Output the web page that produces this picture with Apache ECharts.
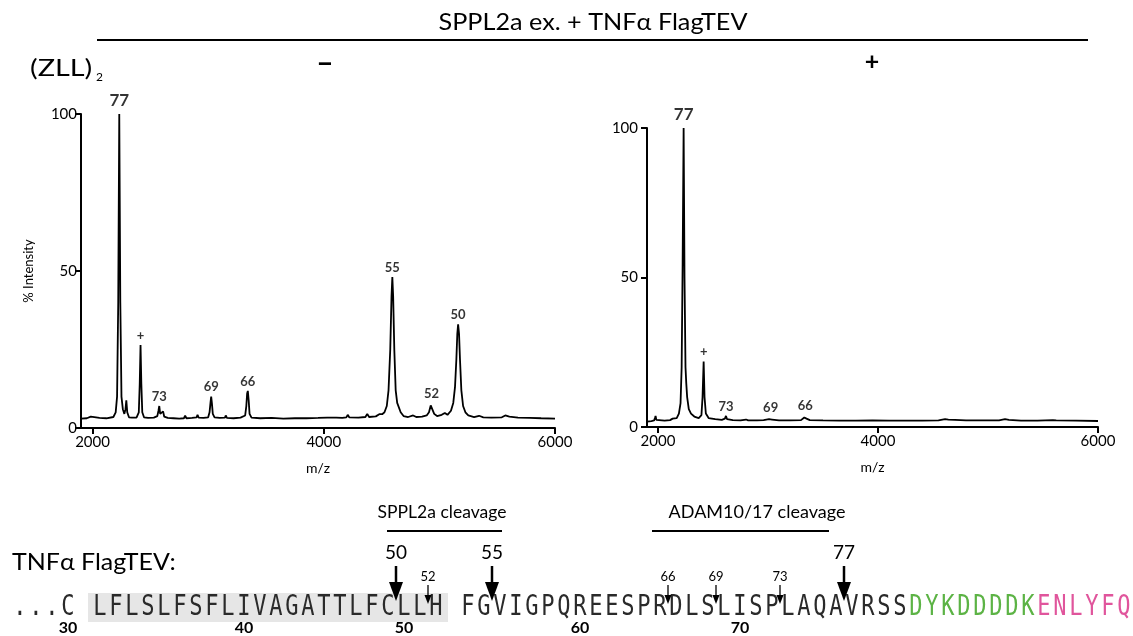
<!DOCTYPE html>
<html>
<head>
<meta charset="utf-8">
<script src="https://cdn.jsdelivr.net/npm/echarts@6/dist/echarts.min.js"></script>
<style>
html,body{margin:0;padding:0;background:#fff;}
#chart{width:1133px;height:636px;}
</style>
</head>
<body>
<div id="chart"></div>
<script>
// ---------- DATA ----------
const xTicks = [2000, 4000, 6000];
const yTicks = [0, 50, 100];

// left spectrum: (ZLL)2 "-"  [m/z, % intensity]
const spectrumMinus = [
 [1900,3.0],[1950,3.1],[1985,3.6],[2000,3.0],[2060,3.2],[2120,3.1],[2180,3.5],[2200,5],[2212,10],[2222,40],[2231,100],[2240,40],[2250,10],[2262,6],[2275,4.5],[2285,6],[2292,8.8],[2300,5],[2315,3.4],[2340,3.3],[2380,3.3],[2400,5],[2408,14],[2415,26.4],[2422,14],[2430,5],[2445,3.4],[2480,3.2],[2530,3.3],[2560,3.8],[2570,5.5],[2577,7.0],[2585,4.5],[2600,4.2],[2610,5.3],[2620,3.6],[2650,3.2],[2700,3.1],[2750,3.0],[2790,3.1],[2801,3.9],[2812,3.1],[2860,3.2],[2900,3.4],[2908,4.2],[2918,3.3],[2960,3.2],[3000,3.4],[3012,5],[3020,8],[3026,10],[3032,8],[3040,4.5],[3055,3.4],[3100,3.2],[3145,3.3],[3152,4.0],[3162,3.2],[3220,3.1],[3280,3.3],[3320,4],[3330,7],[3337,11],[3343,11.8],[3350,9],[3358,4.5],[3375,3.3],[3450,3.1],[3550,3.2],[3650,3.0],[3750,3.1],[3850,3.1],[3950,3.2],[4030,3.3],[4039,3.9],[4050,3.3],[4088,3.3],[4097,3.9],[4108,3.3],[4160,3.2],[4195,3.4],[4207,4.2],[4220,3.4],[4300,3.3],[4360,3.5],[4376,4.5],[4392,3.5],[4450,3.7],[4480,4.4],[4494,5.0],[4505,4.4],[4525,5],[4545,7],[4560,12],[4575,25],[4586,42],[4593,48.1],[4600,42],[4610,25],[4622,12],[4635,8],[4650,7.8],[4665,5],[4690,3.8],[4730,3.5],[4773,4.0],[4800,3.5],[4850,3.6],[4890,4.0],[4910,5.0],[4925,7.2],[4932,7.8],[4940,7],[4955,4.5],[4980,3.8],[5020,4.2],[5047,4.8],[5070,4.2],[5100,5.5],[5120,8],[5135,13],[5147,22],[5155,30],[5162,33],[5170,30],[5178,22],[5190,12],[5205,7],[5225,5],[5250,4.0],[5300,3.5],[5343,3.9],[5380,3.4],[5450,3.3],[5540,3.4],[5570,4.0],[5586,4.6],[5605,3.6],[5680,3.3],[5780,3.2],[5880,3.1],[6000,3.0]
];
// right spectrum: (ZLL)2 "+"
const spectrumPlus = [
 [1900,1.8],[1940,2.0],[1965,2.2],[1972,3.0],[1978,3.7],[1985,2.4],[2000,2.0],[2060,2.1],[2110,2.3],[2125,2.6],[2133,2.8],[2145,2.5],[2170,3],[2190,4.5],[2205,8],[2215,20],[2224,55],[2233,100],[2241,50],[2250,20],[2257,14.6],[2265,10],[2280,6],[2300,4.5],[2330,3.5],[2370,3],[2395,4],[2405,10],[2415,21.9],[2423,10],[2435,4.5],[2460,3.0],[2520,2.6],[2580,2.4],[2608,2.8],[2618,3.7],[2628,2.6],[2680,2.3],[2750,2.2],[2800,2.5],[2820,2.2],[2900,2.2],[2960,2.3],[3010,2.6],[3024,3.2],[3036,2.5],[3100,2.2],[3200,2.2],[3300,2.3],[3330,3.2],[3339,3.8],[3350,2.8],[3380,2.3],[3500,2.2],[3650,2.1],[3800,2.1],[3950,2.2],[4100,2.1],[4250,2.1],[4400,2.1],[4550,2.2],[4610,2.6],[4625,2.8],[4640,2.5],[4700,2.4],[4800,2.2],[4950,2.2],[5100,2.2],[5155,2.6],[5171,2.9],[5190,2.4],[5300,2.1],[5450,2.1],[5590,2.3],[5603,2.6],[5620,2.2],[5800,2.1],[6000,2.0]
];
// peak annotations: [label, m/z, intensity]
const peakLabelsMinus = [['77',2231,100],['+',2415,26.4],['73',2577,7.0],['69',3026,10],['66',3343,11.8],['55',4593,48.1],['52',4932,7.8],['50',5162,33]];
const peakLabelsPlus = [['77',2233,100],['+',2415,21.9],['73',2618,3.7],['69',3024,3.2],['66',3339,3.8]];

// sequence
const seqPrefix = '...C';
const seqTMD = 'LFLSLFSFLIVAGATTLFCLLH';
const seqJuxta = 'FGVIGPQREESPRDLSLISPLAQAVRSS';
const seqFlag = 'DYKDDDDK';
const seqTEV = 'ENLYFQ';
const residueNumbers = [30, 40, 50, 60, 70];
const majorSites = [50, 55, 77];
const minorSites = [52, 66, 69, 73];

// ---------- LAYOUT ----------
const FONT = 'Lato, "Open Sans", sans-serif';
const SEQ_X0 = 12, PITCH = 16, SEQ_Y = 607;
function residueIndex(r){ return r === 30 ? 3 : (r <= 52 ? r - 26 : r - 25); }
function residueLeft(r){ return SEQ_X0 + residueIndex(r) * PITCH; }

const graphic = [];
function txt(x, y, text, size, opts){
  opts = opts || {};
  graphic.push({type:'text', x:x, y:y, z:10, scaleX: opts.scaleX || 1,
    style:{text:text, font:(opts.weight||'normal')+' '+size+'px '+(opts.family||FONT),
      fill:opts.fill||'#000', textAlign:opts.align||'center', textVerticalAlign:'middle'}});
}
function line(x1,y1,x2,y2,w){
  graphic.push({type:'line', z:10, shape:{x1:x1,y1:y1,x2:x2,y2:y2}, style:{stroke:'#000', lineWidth:w||2}});
}
// header
txt(593, 22, 'SPPL2a ex. + TNFα FlagTEV', 24, {scaleX:1.05});
line(97, 40, 1088, 40, 2);
txt(30, 68, '(ZLL)', 24, {align:'left', scaleX:1.2});
txt(96, 77, '2', 12, {align:'left'});
txt(325, 63, '–', 30, {weight:'bold'});
txt(872, 62, '+', 25, {weight:'bold'});

// bottom annotation
txt(442, 512, 'SPPL2a cleavage', 17.5);
line(387, 531, 502, 531, 2);
txt(757, 512, 'ADAM10/17 cleavage', 18);
line(652, 531, 829, 531, 2);
txt(12, 562, 'TNFα FlagTEV:', 24, {align:'left', scaleX:1.04});

// gray TMD box
graphic.push({type:'rect', z:1, shape:{x:residueLeft(31)-4, y:593, width:seqTMD.length*PITCH+8, height:29}, style:{fill:'#e6e6e6'}});

// sequence characters
function drawSeq(str, startIdx, color){
  for (let i = 0; i < str.length; i++){
    txt(SEQ_X0 + (startIdx + i) * PITCH + PITCH/2, SEQ_Y, str[i], 29,
      {family:'"DejaVu Sans Mono", monospace', fill:color, scaleX:0.76});
  }
}
drawSeq(seqPrefix, 0, '#2a2a2a');
drawSeq(seqTMD, 5, '#2a2a2a');
drawSeq(seqJuxta, 28, '#2a2a2a');
drawSeq(seqFlag, 28 + seqJuxta.length, '#5cb345');
drawSeq(seqTEV, 28 + seqJuxta.length + seqFlag.length, '#e0559c');

// residue numbers
residueNumbers.forEach(r => txt(residueLeft(r) + PITCH/2, 628, String(r), 16, {weight:'bold'}));

// arrows
majorSites.forEach(r => {
  const x = residueLeft(r);
  txt(x, 553, String(r), 19);
  line(x, 566, x, 584, 2.5);
  graphic.push({type:'polygon', z:10, shape:{points:[[x-7,582],[x+7,582],[x,601]]}, style:{fill:'#000'}});
});
minorSites.forEach(r => {
  const x = residueLeft(r);
  txt(x, 577, String(r), 13);
  line(x, 585, x, 598, 1.3);
  graphic.push({type:'polygon', z:10, shape:{points:[[x-3.5,595],[x+3.5,595],[x,604]]}, style:{fill:'#000'}});
});

// ---------- CHART ----------
function xAxisCfg(idx){
  return {gridIndex:idx, type:'value', min:1900, max:6000,
    axisLine:{show:true, onZero:false, lineStyle:{color:'#000', width:2}},
    axisTick:{show:true, customValues:xTicks, length:6, lineStyle:{color:'#000', width:2}},
    axisLabel:{show:true, customValues:xTicks, formatter:v => String(v), color:'#000', fontSize:15, fontFamily:FONT, margin:7},
    splitLine:{show:false},
    name:'m/z', nameLocation:'middle', nameGap:33, nameTextStyle:{color:'#000', fontSize:14, fontFamily:FONT}};
}
function yAxisCfg(idx, margin, withName){
  const c = {gridIndex:idx, type:'value', min:0, max:100, interval:50,
    axisLine:{show:true, onZero:false, lineStyle:{color:'#000', width:2}},
    axisTick:{show:true, length:6, lineStyle:{color:'#000', width:2}},
    axisLabel:{show:true, formatter:v => String(v), color:'#000', fontSize:15, fontFamily:FONT, margin:margin},
    splitLine:{show:false}};
  if (withName){
    c.name = '% Intensity'; c.nameLocation = 'middle'; c.nameGap = 46; c.nameRotate = 90;
    c.nameTextStyle = {color:'#000', fontSize:13, fontFamily:FONT};
  }
  return c;
}
function labelSeries(list, xi, yi){
  return {type:'scatter', xAxisIndex:xi, yAxisIndex:yi, symbolSize:0, silent:true, z:5,
    data:list.map(p => ({name:p[0], value:[p[1], p[2]],
      label:{show:true, position:'top', distance: p[0]==='77'?5:3, formatter:p[0],
        fontSize: p[0]==='77'?17:13, fontWeight:'bold', color:'#000', fontFamily:FONT}}))};
}

const chart = echarts.init(document.getElementById('chart'), null, {renderer:'canvas'});
chart.setOption({
  animation:false,
  backgroundColor:'#fff',
  grid:[
    {left:81, top:114, width:474, height:314, containLabel:false, outerBoundsMode:'none'},
    {left:647, top:128, width:451, height:299, containLabel:false, outerBoundsMode:'none'}
  ],
  xAxis:[xAxisCfg(0), xAxisCfg(1)],
  yAxis:[yAxisCfg(0, 4, true), yAxisCfg(1, 9, false)],
  series:[
    {type:'line', xAxisIndex:0, yAxisIndex:0, data:spectrumMinus, showSymbol:false, symbol:'none',
      lineStyle:{color:'#000', width:1.8}, z:3},
    {type:'line', xAxisIndex:1, yAxisIndex:1, data:spectrumPlus, showSymbol:false, symbol:'none',
      lineStyle:{color:'#000', width:1.8}, z:3},
    labelSeries(peakLabelsMinus, 0, 0),
    labelSeries(peakLabelsPlus, 1, 1)
  ],
  graphic: graphic
});
</script>
</body>
</html>
